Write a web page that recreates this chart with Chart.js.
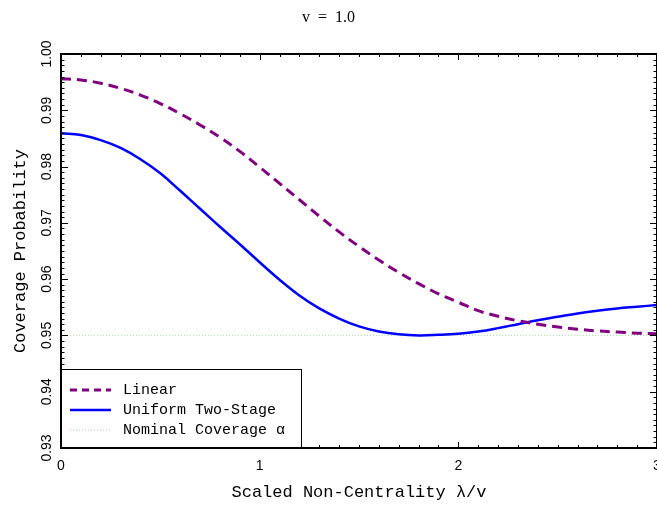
<!DOCTYPE html>
<html><head><meta charset="utf-8">
<script src="https://cdn.jsdelivr.net/npm/chart.js@4.4.1/dist/chart.umd.min.js"></script>
<style>html,body{margin:0;padding:0;background:#fff;} #wrap{width:657px;height:506px;position:relative;}</style>
</head><body><div id="wrap"><canvas id="c"></canvas></div>
<script>
const titleText = 'v  =  1.0';
const xTitle = 'Scaled Non-Centrality \u03bb/v';
const yTitle = 'Coverage Probability';
const seriesNames = ['Linear', 'Uniform Two-Stage', 'Nominal Coverage \u03b1'];
const lambdaValues = [0,0.1,0.2,0.3,0.4,0.5,0.6,0.7,0.8,0.9,1.0,1.1,1.2,1.3,1.4,1.5,1.6,1.7,1.8,1.9,2.0,2.1,2.2,2.3,2.4,2.5,2.6,2.7,2.8,2.9,3.0];
const linearCoverage = [0.9956,0.9954,0.9948,0.9939,0.9927,0.9912,0.9894,0.9874,0.9852,0.9827,0.9799,0.9770,0.9741,0.9712,0.9684,0.9658,0.9634,0.9612,0.9592,0.9574,0.9559,0.9544,0.9534,0.9526,0.9520,0.9515,0.9511,0.9508,0.9506,0.9504,0.9503];
const uniformCoverage = [0.9859,0.9856,0.9847,0.9833,0.9813,0.9788,0.9757,0.9725,0.9693,0.9662,0.9630,0.9599,0.9571,0.9548,0.9530,0.9516,0.9507,0.9502,0.9500,0.9501,0.9503,0.9507,0.9513,0.9520,0.9527,0.9533,0.9539,0.9544,0.9548,0.9551,0.9554];
const nominalX = [0, 3];
const nominalCoverage = [0.95, 0.95];
const xTickValues = [0, 1, 2, 3];
const xTickLabels = ['0', '1', '2', '3'];
const yTickValues = [0.93, 0.94, 0.95, 0.96, 0.97, 0.98, 0.99, 1.00];
const yTickLabels = ['0.93', '0.94', '0.95', '0.96', '0.97', '0.98', '0.99', '1.00'];

const pts = (xs, ys) => xs.map((x, i) => ({x: x, y: ys[i]}));

const boxTicks = {
  id: 'boxTicks',
  afterDatasetsDraw(chart) {
    const {ctx, chartArea: a, scales: {x, y}} = chart;
    ctx.save();
    ctx.strokeStyle = '#000';
    ctx.lineWidth = 1;
    ctx.beginPath();
    for (let i = 0; i <= 30; i++) {
      const px = Math.round(x.getPixelForValue(i / 10)) + 0.5;
      const len = (i % 10 === 0) ? 6 : 3;
      ctx.moveTo(px, a.bottom); ctx.lineTo(px, a.bottom - len);
      ctx.moveTo(px, a.top); ctx.lineTo(px, a.top + len);
    }
    for (let i = 930; i <= 1000; i++) {
      const py = Math.round(y.getPixelForValue(i / 1000)) + 0.5;
      const len = (i % 10 === 0) ? 7 : 3.5;
      ctx.moveTo(a.left, py); ctx.lineTo(a.left + len, py);
      ctx.moveTo(a.right, py); ctx.lineTo(a.right - len, py);
    }
    ctx.stroke();
    ctx.lineWidth = 2;
    ctx.strokeRect(a.left, a.top, a.right - a.left, a.bottom - a.top);
    ctx.restore();
  }
};

const boxLegend = {
  id: 'boxLegend',
  afterDraw(chart) {
    const {ctx, chartArea: a} = chart;
    const top = 369, right = 301;
    ctx.save();
    ctx.fillStyle = '#fff';
    ctx.fillRect(a.left + 1, top, right - a.left - 1, a.bottom - top - 1);
    ctx.strokeStyle = '#000';
    ctx.lineWidth = 1;
    ctx.strokeRect(a.left + 0.5, top + 0.5, right - a.left, a.bottom - top);
    const dsList = chart.data.datasets;
    const legendDash = [[7, 5], [], [1, 2]];
    dsList.forEach((ds, i) => {
      const yy = 390 + i * 20;
      ctx.beginPath();
      ctx.setLineDash(legendDash[i]);
      ctx.strokeStyle = ds.borderColor;
      ctx.lineWidth = ds.borderWidth;
      ctx.moveTo(70, yy); ctx.lineTo(111, yy);
      ctx.stroke();
      ctx.setLineDash([]);
      ctx.fillStyle = '#000';
      ctx.font = '15px "Liberation Mono"';
      ctx.textBaseline = 'middle';
      ctx.textAlign = 'left';
      ctx.fillText(ds.label, 123, yy);
    });
    ctx.restore();
  }
};

new Chart(document.getElementById('c'), {
  type: 'line',
  data: {
    datasets: [
      {label: seriesNames[0], data: pts(lambdaValues, linearCoverage), borderColor: '#800080', borderWidth: 3, borderDash: [10, 6], pointRadius: 0, tension: 0.4, fill: false},
      {label: seriesNames[1], data: pts(lambdaValues, uniformCoverage), borderColor: '#0000ff', borderWidth: 2.5, pointRadius: 0, tension: 0.4, fill: false},
      {label: seriesNames[2], data: pts(nominalX, nominalCoverage), borderColor: '#a8dca8', borderWidth: 1, borderDash: [1, 2], pointRadius: 0, fill: false}
    ]
  },
  options: {
    responsive: true,
    maintainAspectRatio: false,
    animation: false,
    layout: {padding: 0},
    plugins: {
      legend: {display: false},
      tooltip: {enabled: false},
      title: {display: true, text: titleText, color: '#000', font: {family: '"Liberation Serif"', size: 16, weight: 'normal'}, padding: {top: 8, bottom: 26.8}}
    },
    scales: {
      x: {
        type: 'linear', position: 'bottom', min: 0, max: 3,
        grid: {display: false, drawTicks: false},
        border: {display: false},
        afterBuildTicks: (s) => { s.ticks = xTickValues.map(v => ({value: v})); },
        afterFit: (s) => { s.height = 58; s.paddingLeft = 0; s.paddingRight = 0; },
        ticks: {color: '#000', autoSkip: false, maxRotation: 0, padding: 10, font: {family: '"Liberation Sans"', size: 14},
          callback: (v, i) => xTickLabels[i]},
        title: {display: true, text: xTitle, color: '#000', font: {family: '"Liberation Mono"', size: 17}, padding: {top: 0, bottom: 3.8}}
      },
      y: {
        type: 'linear', position: 'left', min: 0.93, max: 1.00,
        grid: {display: false, drawTicks: false},
        border: {display: false},
        afterBuildTicks: (s) => { s.ticks = yTickValues.map(v => ({value: v})); },
        afterFit: (s) => { s.width = 61; s.paddingTop = 0; s.paddingBottom = 0; },
        ticks: {color: '#000', autoSkip: false, minRotation: 90, maxRotation: 90, crossAlign: 'center', padding: 0, font: {family: '"Liberation Sans"', size: 14},
          callback: (v, i) => yTickLabels[i]},
        title: {display: true, text: yTitle, color: '#000', font: {family: '"Liberation Mono"', size: 17}, padding: {top: 9.8, bottom: 0}}
      }
    }
  },
  plugins: [boxTicks, boxLegend]
});
</script>
</body></html>
